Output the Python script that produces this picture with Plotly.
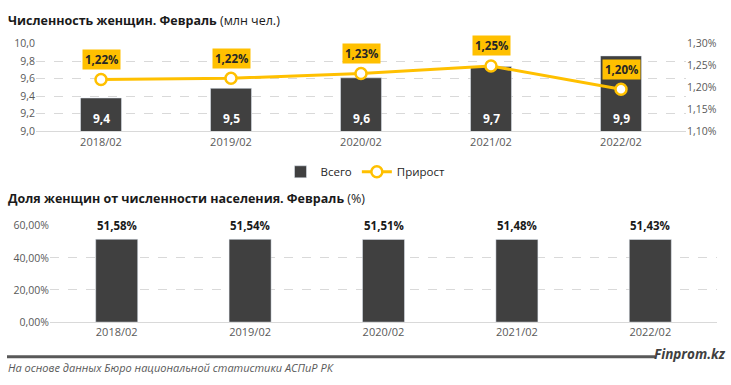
import plotly.graph_objects as go

periods = ["2018/02", "2019/02", "2020/02", "2021/02", "2022/02"]
women_mln = [9.38, 9.49, 9.61, 9.74, 9.86]
growth_pct = [1.218, 1.221, 1.232, 1.249, 1.196]
share_pct = [51.58, 51.54, 51.51, 51.48, 51.43]

W, H = 731, 385
FONT = "Open Sans"
DARK = "#404040"
YEL = "#FFC000"
GRAY = "#595959"
GRID = "#D9D9D9"

def px_x(p):
    return p / W

def px_y(p):
    return (H - p) / H

fig = go.Figure()

fig.add_trace(go.Bar(
    x=periods, y=women_mln, name="Всего", marker_color=DARK, width=0.315,
    xaxis="x", yaxis="y", showlegend=True,
))
fig.add_trace(go.Scatter(
    x=periods, y=growth_pct, name="Прирост", mode="lines+markers",
    line=dict(color=YEL, width=3),
    marker=dict(size=11, color="white", line=dict(color=YEL, width=2.5)),
    xaxis="x", yaxis="y2",
))
fig.add_trace(go.Bar(
    x=periods, y=share_pct, name="Доля", marker_color=DARK, width=0.315,
    xaxis="x3", yaxis="y3", showlegend=False,
))

Y1_MIN, Y1_MAX = 9.0, 10.0

annotations = []
for p, v in zip(periods, women_mln):
    annotations.append(dict(
        x=p, y=Y1_MIN, xref="x", yref="y", text=f"<b>{v:.1f}</b>".replace(".", ","),
        showarrow=False, yshift=13, yanchor="middle",
        font=dict(size=12, color="white", family=FONT),
    ))
for p, g in zip(periods, growth_pct):
    annotations.append(dict(
        x=p, y=g, xref="x", yref="y2", text=f"<b>{g:.2f}%</b>".replace(".", ","),
        showarrow=False, yshift=20, bgcolor=YEL, borderpad=2,
        font=dict(size=11.5, color="#262626", family=FONT),
    ))
for p, s in zip(periods, share_pct):
    annotations.append(dict(
        x=p, y=s, xref="x3", yref="y3", text=f"<b>{s:.2f}%</b>".replace(".", ","),
        showarrow=False, yshift=14, yanchor="middle",
        font=dict(size=11.5, color="#1a1a1a", family=FONT),
    ))

annotations += [
    dict(x=px_x(6), y=px_y(14), xref="paper", yref="paper", xanchor="left", yanchor="middle",
         text="<b>Численность женщин. Февраль</b> (млн чел.)", showarrow=False,
         font=dict(size=12.5, color="#1a1a1a", family=FONT)),
    dict(x=px_x(6), y=px_y(199), xref="paper", yref="paper", xanchor="left", yanchor="middle",
         text="<b>Доля женщин от численности населения. Февраль</b> (%)", showarrow=False,
         font=dict(size=12.5, color="#1a1a1a", family=FONT)),
    dict(x=px_x(6), y=px_y(374), xref="paper", yref="paper", xanchor="left", yanchor="middle",
         text="<i>На основе данных Бюро национальной статистики АСПиР РК</i>", showarrow=False,
         font=dict(size=11, color=GRAY, family=FONT)),
    dict(x=px_x(728), y=px_y(360), xref="paper", yref="paper", xanchor="right", yanchor="middle",
         text="<b><i>Finprom.kz</i></b>", showarrow=False,
         font=dict(size=13.5, color=DARK, family=FONT)),
]

shapes = [dict(type="line", xref="paper", yref="paper", x0=px_x(7), x1=px_x(655),
               y0=px_y(363), y1=px_y(363), line=dict(color=GRAY, width=3))]

tickfont = dict(size=10.5, color=GRAY, family=FONT)
xtickfont = dict(size=11, color=GRAY, family=FONT)

fig.update_layout(
    width=W, height=H, margin=dict(l=0, r=0, t=0, b=0),
    paper_bgcolor="white", plot_bgcolor="white",
    separators=", ",
    font=dict(family=FONT),
    xaxis=dict(domain=[px_x(36), px_x(686)], anchor="y", showgrid=False,
               showline=True, linecolor=GRID, linewidth=1, ticks="",
               tickfont=xtickfont),
    yaxis=dict(domain=[px_y(129), px_y(38)], range=[Y1_MIN, Y1_MAX], dtick=0.2,
               tickformat=".1f", showgrid=True, gridcolor=GRID, griddash="dash",
               zeroline=False, tickfont=tickfont, ticks=""),
    yaxis2=dict(overlaying="y", side="right", range=[1.10, 1.30], dtick=0.05,
                tickformat=".2f", ticksuffix="%", showgrid=False, zeroline=False,
                tickfont=tickfont, anchor="x", ticks=""),
    xaxis3=dict(domain=[px_x(50), px_x(717)], anchor="y3", showgrid=False,
                showline=True, linecolor=GRID, linewidth=1, ticks="",
                tickfont=xtickfont),
    yaxis3=dict(domain=[px_y(327), px_y(227)], range=[0, 60], dtick=20,
                tickformat=".2f", ticksuffix="%", showgrid=True, gridcolor=GRID,
                griddash="dash", zeroline=False, tickfont=tickfont, anchor="x3", ticks=""),
    legend=dict(orientation="h", x=0.5, xanchor="center", y=px_y(171), yanchor="middle",
                font=dict(size=11.5, color="#262626", family=FONT), itemwidth=30),
    annotations=annotations,
    shapes=shapes,
)

fig.write_html("out.html", config={"displayModeBar": False},
               post_script="document.body.style.margin='0';document.body.style.overflow='hidden';")
